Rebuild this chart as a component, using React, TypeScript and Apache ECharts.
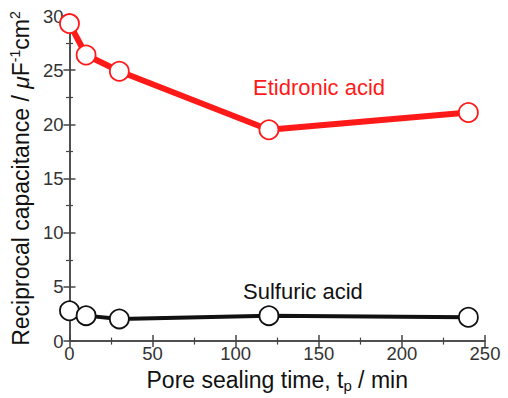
import React, { useEffect, useRef } from "react";
import * as echarts from "echarts";

const times = [0, 10, 30, 120, 240];
const etidronic = [29.3, 26.4, 24.9, 19.5, 21.1];
const sulfuric = [2.8, 2.35, 2.05, 2.35, 2.2];
const seriesNames = ["Etidronic acid", "Sulfuric acid"];

const FONT = "Liberation Sans, Arial, Helvetica, sans-serif";
const AX = "#444";

export default function App() {
  const ref = useRef<HTMLDivElement>(null);
  useEffect(() => {
    if (!ref.current) return;
    const chart = echarts.init(ref.current, undefined, { renderer: "svg" });
    const pts = (ys: number[]) => times.map((t, i) => [t, ys[i]]);
    const baseAxis = {
      axisLine: { show: true, lineStyle: { color: AX, width: 1.5 } },
      axisTick: { show: true, inside: true, length: 6, lineStyle: { color: AX, width: 1.5 } },
      minorTick: { show: true, splitNumber: 2, length: 3.5, lineStyle: { color: AX, width: 1.2 } },
      splitLine: { show: false },
    };
    chart.setOption({
      animation: false,
      backgroundColor: "#fff",
      grid: { left: 69, right: 23, top: 16, bottom: 52 },
      xAxis: [
        {
          ...baseAxis,
          type: "value",
          min: 0,
          max: 250,
          interval: 50,
          axisLabel: { color: "#333", fontSize: 18.5, fontFamily: FONT, margin: 3 },
          name: "{a|Pore sealing time, t}{s|p}{a| / min}",
          nameLocation: "middle",
          nameGap: 24,
          nameTextStyle: {
            rich: {
              a: { fontSize: 23, fontFamily: FONT, color: "#111" },
              s: { fontSize: 15, fontFamily: FONT, color: "#111", padding: [12, 0, 0, 0] },
            },
          },
        },
        {
          ...baseAxis,
          type: "value",
          position: "top",
          min: 0,
          max: 250,
          interval: 50,
          axisLabel: { show: false },
        },
      ],
      yAxis: [
        {
          ...baseAxis,
          type: "value",
          min: 0,
          max: 30,
          interval: 5,
          axisLabel: { color: "#333", fontSize: 18.5, fontFamily: FONT, margin: 6 },
          name: "{a|Reciprocal capacitance / }{i|μ}{a|F}{p|-1}{a|cm}{p|2}",
          nameLocation: "middle",
          nameRotate: 90,
          nameGap: 29,
          nameTextStyle: {
            rich: {
              a: { fontSize: 23, fontFamily: FONT, color: "#111" },
              i: { fontSize: 23, fontFamily: FONT, color: "#111", fontStyle: "italic" },
              p: { fontSize: 14, fontFamily: FONT, color: "#111", padding: [0, 0, 11, 0] },
            },
          },
        },
        {
          ...baseAxis,
          type: "value",
          position: "right",
          min: 0,
          max: 30,
          interval: 5,
          axisLabel: { show: false },
        },
      ],
      series: [
        {
          name: seriesNames[0],
          type: "line",
          data: pts(etidronic),
          symbol: "circle",
          symbolSize: 19,
          lineStyle: { color: "#ff1a1a", width: 6 },
          itemStyle: { color: "#fff", borderColor: "#ff1a1a", borderWidth: 1.8 },
          z: 3,
        },
        {
          name: seriesNames[1],
          type: "line",
          data: pts(sulfuric),
          symbol: "circle",
          symbolSize: 19,
          lineStyle: { color: "#111", width: 4 },
          itemStyle: { color: "#fff", borderColor: "#111", borderWidth: 1.8 },
          z: 3,
        },
      ],
      graphic: [
        {
          type: "text",
          left: 253,
          top: 76,
          style: { text: seriesNames[0], fill: "#ff1a1a", fontSize: 22, fontFamily: FONT },
        },
        {
          type: "text",
          left: 243,
          top: 280,
          style: { text: seriesNames[1], fill: "#111", fontSize: 22, fontFamily: FONT },
        },
      ],
    });
    return () => chart.dispose();
  }, []);
  return (
    <div
      ref={ref}
      style={{ position: "absolute", left: 0, top: 0, width: 508, height: 398 }}
    />
  );
}
